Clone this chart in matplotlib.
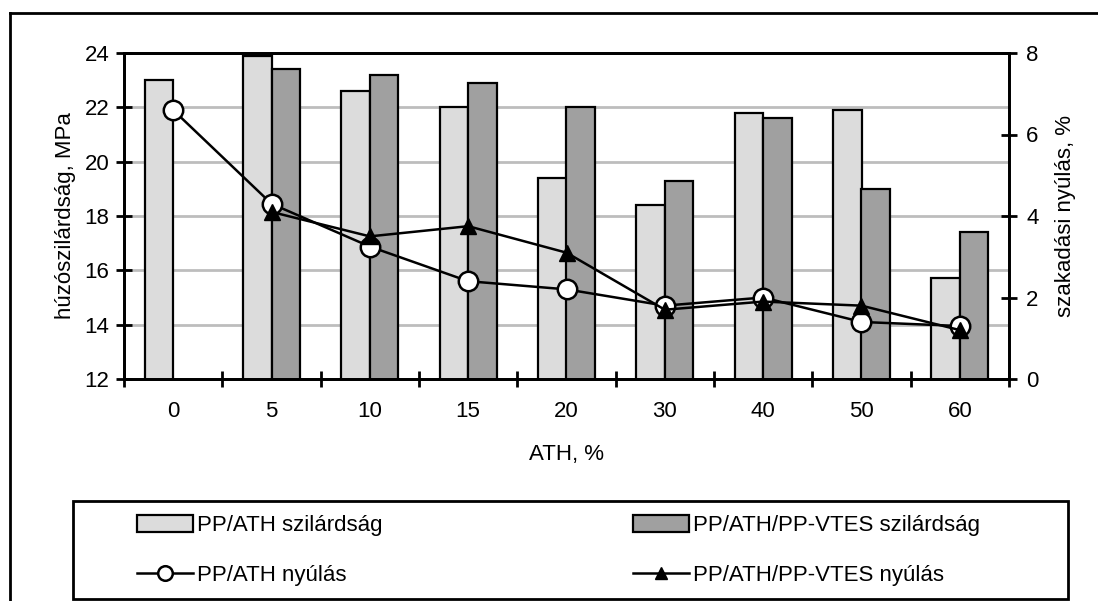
import matplotlib
matplotlib.use("Agg")
import matplotlib.pyplot as plt
from matplotlib.lines import Line2D
from matplotlib.patches import Rectangle
import numpy as np

plt.rcParams['font.family'] = ['Liberation Sans', 'DejaVu Sans']

categories = ['0', '5', '10', '15', '20', '30', '40', '50', '60']
pp_ath_strength = [23.0, 23.9, 22.6, 22.0, 19.4, 18.4, 21.8, 21.9, 15.7]
pp_vtes_strength = [np.nan, 23.4, 23.2, 22.9, 22.0, 19.3, 21.6, 19.0, 17.4]
pp_ath_elong = [6.6, 4.3, 3.25, 2.4, 2.2, 1.8, 2.0, 1.4, 1.3]
pp_vtes_elong = [np.nan, 4.1, 3.5, 3.75, 3.1, 1.7, 1.9, 1.8, 1.2]

W, H = 1098, 601
fig = plt.figure(figsize=(W / 100, H / 100), dpi=100)
L, R, T, B = 124, 1009, 53, 379
ax = fig.add_axes([L / W, 1 - B / H, (R - L) / W, (B - T) / H])
ax2 = ax.twinx()

x = np.arange(len(categories))
bw = 0.29
fs = 16
ax.set_axisbelow(True)
ax.bar(x - bw / 2, pp_ath_strength, bw, color='#dcdcdc', edgecolor='black', linewidth=1.6,
       label='PP/ATH szilárdság', zorder=2)
ax.bar(x + bw / 2, pp_vtes_strength, bw, color='#a0a0a0', edgecolor='black', linewidth=1.6,
       label='PP/ATH/PP-VTES szilárdság', zorder=2)
ax.set_ylim(12, 24)
ax.set_xlim(-0.5, len(categories) - 0.5)
ax.set_yticks(np.arange(12, 25, 2))
ax.yaxis.grid(True, color='#bdbdbd', linewidth=2)
ax.set_xticks(x)
ax.set_xticklabels(categories, fontsize=fs)
ax.tick_params(axis='x', length=0, pad=16)
ax.set_xticks(np.arange(-0.5, len(categories) - 0.4, 1), minor=True)
ax.tick_params(axis='x', which='minor', length=11, width=2, direction='inout')
ax.tick_params(axis='y', labelsize=fs, length=11, width=2, direction='inout', pad=5)
for s in ax.spines.values():
    s.set_linewidth(2)
ax.set_ylabel('húzószilárdság, MPa', fontsize=fs, labelpad=6)
ax.set_xlabel('ATH, %', fontsize=fs, labelpad=16)

ax2.plot(x, pp_ath_elong, color='black', linewidth=1.8, marker='o', markersize=14,
         markerfacecolor='white', markeredgecolor='black', markeredgewidth=1.8,
         label='PP/ATH nyúlás', zorder=3)
ax2.plot(x, pp_vtes_elong, color='black', linewidth=1.8, marker='^', markersize=12,
         markerfacecolor='black', markeredgecolor='black',
         label='PP/ATH/PP-VTES nyúlás', zorder=4)
ax2.set_ylim(0, 8)
ax2.set_yticks(np.arange(0, 9, 2))
ax2.tick_params(axis='y', labelsize=fs, length=11, width=2, direction='inout', pad=7)
for s in ax2.spines.values():
    s.set_linewidth(2)
ax2.set_ylabel('szakadási nyúlás, %', fontsize=fs, labelpad=12)

# outer frame (partially clipped like reference)
fig.add_artist(Line2D([10 / W, 1.0], [1 - 13 / H, 1 - 13 / H], color='black', linewidth=2,
                      transform=fig.transFigure))
fig.add_artist(Line2D([10 / W, 10 / W], [1 - 13 / H, 0], color='black', linewidth=2,
                      transform=fig.transFigure))
# legend box
fig.add_artist(Rectangle((73 / W, 1 - 599 / H), (1068 - 73) / W, (599 - 501) / H,
                         transform=fig.transFigure, fill=False, edgecolor='black', linewidth=2))

h1, l1 = ax.get_legend_handles_labels()
h2, l2 = ax2.get_legend_handles_labels()
common = dict(loc='upper left', frameon=False, fontsize=fs, handlelength=2.5,
              handletextpad=0.22, labelspacing=1.3, borderpad=0, borderaxespad=0,
              markerscale=0.75, handleheight=0.8)
fig.legend([h1[0], h2[0]], [l1[0], l2[0]], bbox_to_anchor=(137 / W, 1 - 515 / H), **common)
fig.legend([h1[1], h2[1]], [l1[1], l2[1]], bbox_to_anchor=(633 / W, 1 - 515 / H), **common)

fig.savefig('out.png', dpi=100)
